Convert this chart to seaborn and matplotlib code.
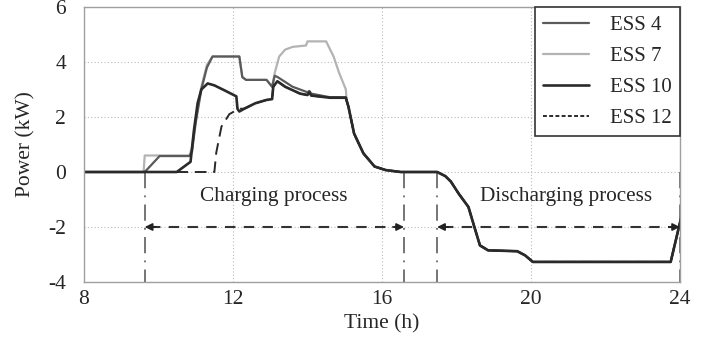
import numpy as np
import pandas as pd
import matplotlib
matplotlib.use("Agg")
import matplotlib.pyplot as plt
from matplotlib.lines import Line2D
import seaborn as sns

sns.set_style("white")
plt.rcParams['font.family'] = ['Liberation Serif', 'DejaVu Serif']
plt.rcParams['axes.unicode_minus'] = False

# ---- data ----
common_t = [15.05, 15.1, 15.25, 15.5, 15.8, 16.1, 16.5, 17.48, 17.7, 17.85, 18.06, 18.32,
            18.48, 18.63, 18.85, 19.63, 19.84, 20.05, 23.75, 24.05]
common_p = [2.6, 2.37, 1.4, 0.68, 0.2, 0.07, 0.0, 0.0, -0.15, -0.35, -0.79, -1.27,
            -2.0, -2.67, -2.85, -2.88, -3.03, -3.27, -3.27, -1.55]

ess4_t = [8, 9.63, 10.03, 10.83, 10.9, 11.0, 11.15, 11.3, 11.45, 12.17, 12.25, 12.35,
          12.9, 13.05, 13.12, 13.2, 13.6, 14.0, 14.05, 14.1, 14.6, 15.03]
ess4_p = [0, 0, 0.58, 0.58, 0.75, 1.8, 3.0, 3.8, 4.2, 4.2, 3.45, 3.35,
          3.35, 3.1, 3.5, 3.45, 3.1, 2.9, 2.95, 2.85, 2.72, 2.72]

ess7_t = [8, 9.6, 9.63, 10.83, 10.9, 11.0, 11.15, 11.3, 11.45, 12.17, 12.25, 12.35,
          12.9, 13.05, 13.12, 13.24, 13.4, 13.6, 13.96, 14.0, 14.5, 14.7, 14.85, 15.03]
ess7_p = [0, 0, 0.6, 0.6, 0.9, 1.9, 3.1, 3.9, 4.2, 4.2, 3.45, 3.35,
          3.35, 3.1, 3.6, 4.2, 4.45, 4.55, 4.6, 4.75, 4.75, 4.2, 3.6, 3.0]

ess10_t = [8, 10.49, 10.86, 10.95, 11.05, 11.15, 11.32, 11.5, 11.8, 12.09, 12.12, 12.17,
           12.3, 12.6, 12.9, 13.05, 13.08, 13.19, 13.4, 13.8, 14.0, 14.05, 14.1, 14.6, 15.03]
ess10_p = [0, 0, 0.37, 1.5, 2.5, 3.0, 3.22, 3.15, 2.95, 2.75, 2.3, 2.2,
           2.3, 2.5, 2.62, 2.65, 3.1, 3.3, 3.1, 2.85, 2.8, 2.9, 2.78, 2.7, 2.7]

ess12_t = [8, 11.5, 11.55, 11.69, 11.9, 12.09, 12.2, 12.3, 12.6, 12.9, 13.05, 13.08,
           13.19, 13.4, 13.8, 14.0, 14.05, 14.1, 14.6, 15.03]
ess12_p = [0, 0, 0.7, 1.65, 2.1, 2.25, 2.3, 2.3, 2.5, 2.62, 2.65, 3.1,
           3.3, 3.1, 2.85, 2.8, 2.9, 2.78, 2.7, 2.7]

labels = ["ESS 4", "ESS 7", "ESS 10", "ESS 12"]
period_lines = [9.63, 16.59, 17.48, 24.0]
charge_span = (9.63, 16.59)
discharge_span = (17.48, 24.0)
xticks = [8, 12, 16, 20, 24]
yticks = [-4, -2, 0, 2, 4, 6]

series = {
    "ESS 4": (ess4_t + common_t, ess4_p + common_p),
    "ESS 7": (ess7_t + common_t, ess7_p + common_p),
    "ESS 10": (ess10_t + common_t, ess10_p + common_p),
    "ESS 12": (ess12_t + common_t, ess12_p + common_p),
}

styles = {
    "ESS 7": dict(color="#b3b3b3", lw=1.6),
    "ESS 4": dict(color="#5a5a5a", lw=1.6),
    "ESS 12": dict(color="#2a2a2a", lw=1.4, dashes=(6, 3.5)),
    "ESS 10": dict(color="#2a2a2a", lw=1.9),
}

fig = plt.figure(figsize=(7.1, 3.41), dpi=100)
ax = fig.add_axes([84 / 710, 59 / 341, (680 - 84) / 710, (282 - 7) / 341])

for name in ["ESS 7", "ESS 4", "ESS 12", "ESS 10"]:
    t, p = series[name]
    st = dict(styles[name])
    dashes = st.pop("dashes", None)
    sns.lineplot(x=t, y=p, ax=ax, sort=False, estimator=None, legend=False, **st)
    if dashes is not None:
        ax.lines[-1].set_dashes(dashes)

# vertical dash-dot period markers
for xv in period_lines:
    ax.plot([xv, xv], [0, -4], color="#6a6a6a", lw=1.3,
            linestyle=(0, (9, 4, 1, 4)), zorder=1)

# dashed double arrows
for (a, b) in [charge_span, discharge_span]:
    ax.plot([a + 0.15, b - 0.15], [-2, -2], color="#333333", lw=1.5, dashes=(5, 4), zorder=3)
    for (tip, tail) in [(a, a + 0.3), (b, b - 0.3)]:
        ax.annotate("", xy=(tip, -2), xytext=(tail, -2),
                    arrowprops=dict(arrowstyle="-|>", color="#222222", lw=1.2,
                                    mutation_scale=11, shrinkA=0, shrinkB=0), zorder=4)

ax.text(13.1, -0.9, "Charging process", ha="center", va="center", fontsize=15.3)
ax.text(20.95, -0.9, "Discharging process", ha="center", va="center", fontsize=15.3)

ax.set_xlim(8, 24)
ax.set_ylim(-4, 6)
ax.set_xticks(xticks)
ax.set_yticks(yticks)
ax.tick_params(axis="both", labelsize=15.5, direction="in", length=3, color="#999999")
ax.tick_params(axis="x", pad=6)
ax.tick_params(axis="y", pad=13)
ax.set_xlabel("Time (h)", fontsize=15.5, labelpad=3.5)
ax.set_ylabel("Power (kW)", fontsize=15.5, labelpad=9)
ax.grid(True, linestyle=(0, (1, 2)), color="#bbbbbb", lw=0.8)
for s in ax.spines.values():
    s.set_color("#a0a0a0")
    s.set_linewidth(1.0)

handles = [
    Line2D([], [], color="#5a5a5a", lw=1.6),
    Line2D([], [], color="#b3b3b3", lw=1.6),
    Line2D([], [], color="#2a2a2a", lw=1.9),
    Line2D([], [], color="#2a2a2a", lw=1.4, dashes=(2, 1.2)),
]
leg = ax.legend(handles, labels, loc="upper right", fontsize=15, frameon=True,
                fancybox=False, framealpha=1, edgecolor="#333333",
                borderaxespad=0, handlelength=2.2, handletextpad=1.0,
                labelspacing=0.55, borderpad=0.4)
leg.get_frame().set_linewidth(1.2)

fig.savefig("out.png", dpi=100)
